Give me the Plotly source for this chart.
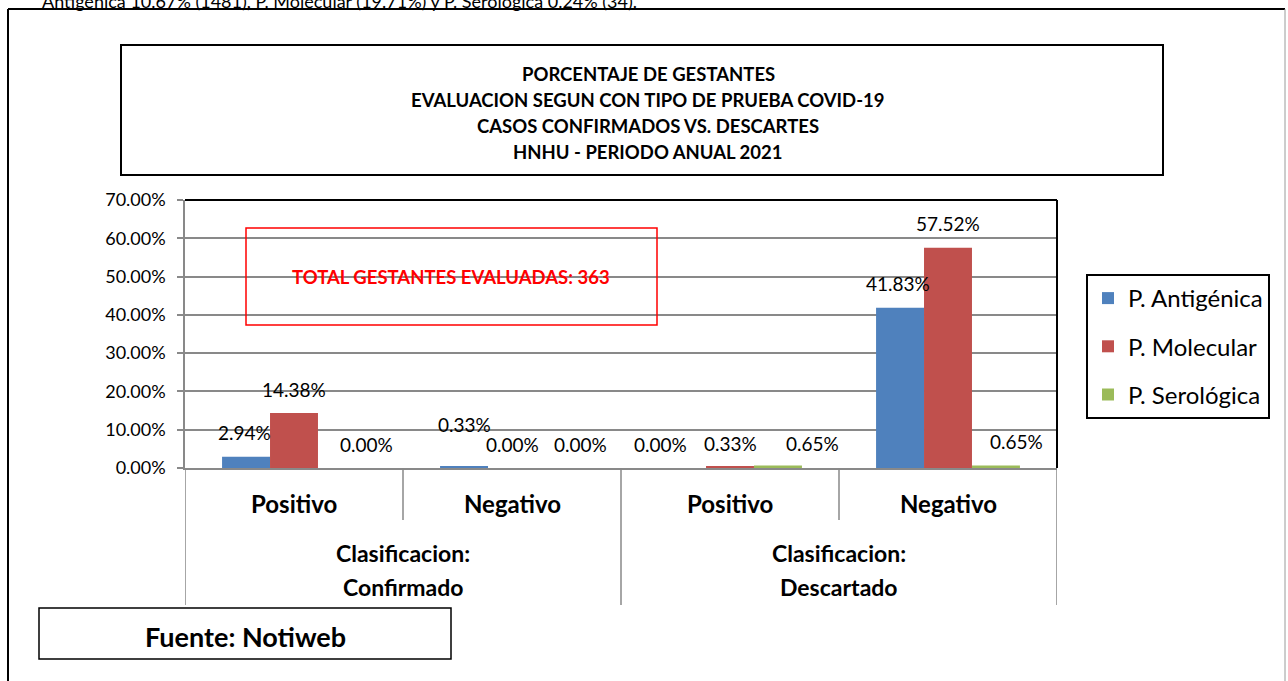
import plotly.graph_objects as go

# ---------------- data ----------------
groups = ["Clasificacion:<br>Confirmado", "Clasificacion:<br>Descartado"]
subcats = ["Positivo", "Negativo", "Positivo", "Negativo"]
series_names = ["P. Antigénica", "P. Molecular", "P. Serológica"]
antigenica = [2.94, 0.33, 0.00, 41.83]
molecular = [14.38, 0.00, 0.33, 57.52]
serologica = [0.00, 0.00, 0.65, 0.65]
y_ticks = [0, 10, 20, 30, 40, 50, 60, 70]

title_lines = [
    "PORCENTAJE DE GESTANTES",
    "EVALUACION SEGUN CON TIPO DE PRUEBA COVID-19",
    "CASOS CONFIRMADOS VS. DESCARTES",
    "HNHU - PERIODO ANUAL 2021",
]
total_text = "TOTAL GESTANTES EVALUADAS: 363"
source_text = "Fuente: Notiweb"
caption_text = "Antigénica 10.67% (1481), P. Molecular (19.71%) y P. Serológica 0.24% (34)."

# label offsets (pixels) to mimic the manually-placed data labels
label_dx = [[-2, 0, -22, -2], [0, 0, 0, 0], [25, 21, 35, 21]]
label_dy = [[24, 42, 24, 24], [23, 24, 23, 24], [24, 24, 22, 24]]

colors = ["#4F81BD", "#C0504D", "#9BBB59"]
FONT = "Lato, 'Open Sans', sans-serif"

W, H = 1288, 681
L, R, T, B = 185, 231, 200, 213
PW, PH = W - L - R, H - T - B


def px(x):
    return (x - L) / PW


def py(y):
    return (H - B - y) / PH


values = [antigenica, molecular, serologica]

fig = go.Figure()
for name, vals, col in zip(series_names, values, colors):
    fig.add_trace(go.Bar(
        x=list(range(len(subcats))), y=vals, name=name,
        marker=dict(color=col, line=dict(width=0)),
        legendgroup=name,
    ))

bargap = 0.34
bw = (1 - bargap) / 3

annotations = []
# data labels
for k, vals in enumerate(values):
    for i, v in enumerate(vals):
        annotations.append(dict(
            x=i + (k - 1) * bw, y=v, xref="x", yref="y",
            text=f"{v:.2f}%", showarrow=False,
            xshift=label_dx[k][i], yshift=label_dy[k][i],
            yanchor="middle", xanchor="center",
            font=dict(family=FONT, size=19, color="#000000"),
        ))

# category labels
for i, s in enumerate(subcats):
    annotations.append(dict(
        x=i, y=py(503), xref="x", yref="paper", text=f"<b>{s}</b>",
        showarrow=False, yanchor="middle", xanchor="center",
        font=dict(family=FONT, size=24, color="#000000"),
    ))
for g, name in enumerate(groups):
    l1, l2 = name.split("<br>")
    for txt, yy in ((l1, 553), (l2, 587)):
        annotations.append(dict(
            x=2 * g + 0.5, y=py(yy), xref="x", yref="paper", text=f"<b>{txt}</b>",
            showarrow=False, yanchor="middle", xanchor="center",
            font=dict(family=FONT, size=23, color="#000000"),
        ))

# title lines
for line, yy in zip(title_lines, [74, 100, 126, 152]):
    annotations.append(dict(
        x=px(648), y=py(yy), xref="paper", yref="paper", text=f"<b>{line}</b>",
        showarrow=False, yanchor="middle", xanchor="center",
        font=dict(family=FONT, size=18.5, color="#000000"),
    ))

annotations.append(dict(
    x=px(451), y=py(277), xref="paper", yref="paper", text=f"<b>{total_text}</b>",
    showarrow=False, yanchor="middle", xanchor="center",
    font=dict(family=FONT, size=18.5, color="#FF0000"),
))
annotations.append(dict(
    x=px(245), y=py(636), xref="paper", yref="paper", text=f"<b>{source_text}</b>",
    showarrow=False, yanchor="middle", xanchor="center",
    font=dict(family=FONT, size=27, color="#000000"),
))
annotations.append(dict(
    x=px(40), y=py(1), xref="paper", yref="paper", text=caption_text,
    showarrow=False, yanchor="middle", xanchor="left",
    font=dict(family=FONT, size=18, color="#000000"),
))

shapes = []
# outer border
shapes.append(dict(type="line", xref="paper", yref="paper", x0=px(8), x1=px(8), y0=py(9), y1=py(700),
                   line=dict(color="#000000", width=2)))
shapes.append(dict(type="line", xref="paper", yref="paper", x0=px(8), x1=px(1285), y0=py(9), y1=py(9),
                   line=dict(color="#000000", width=2)))
shapes.append(dict(type="line", xref="paper", yref="paper", x0=px(1285), x1=px(1285), y0=py(9), y1=py(700),
                   line=dict(color="#9a9a9a", width=1)))
# title box
shapes.append(dict(type="rect", xref="paper", yref="paper", x0=px(121), x1=px(1163), y0=py(175), y1=py(45),
                   line=dict(color="#000000", width=2)))
# red box
shapes.append(dict(type="rect", xref="paper", yref="paper", x0=px(246), x1=px(657), y0=py(325), y1=py(228),
                   line=dict(color="#FF0000", width=1.5)))
# source box
shapes.append(dict(type="rect", xref="paper", yref="paper", x0=px(39), x1=px(451), y0=py(659), y1=py(608),
                   line=dict(color="#000000", width=1.5)))
# plot area top & right borders
shapes.append(dict(type="line", xref="paper", yref="paper", x0=0, x1=1, y0=1, y1=1,
                   line=dict(color="#000000", width=2)))
shapes.append(dict(type="line", xref="paper", yref="paper", x0=1, x1=1, y0=0, y1=1,
                   line=dict(color="#000000", width=2)))
# category separators
for j in range(len(subcats) + 1):
    bottom = 605 if j % 2 == 0 else 520
    shapes.append(dict(type="line", xref="x", yref="paper", x0=j - 0.5, x1=j - 0.5, y0=0, y1=py(bottom),
                       line=dict(color="#898989", width=1.5)))

fig.update_layout(
    width=W, height=H,
    margin=dict(l=L, r=R, t=T, b=B, autoexpand=False),
    paper_bgcolor="white", plot_bgcolor="white",
    barmode="group", bargap=bargap, bargroupgap=0,
    font=dict(family=FONT, color="#000000"),
    showlegend=True,
    legend=dict(
        x=px(1086), y=py(274), xanchor="left", yanchor="top",
        bordercolor="#000000", borderwidth=2, bgcolor="white",
        font=dict(family=FONT, size=24, color="#000000"),
        traceorder="grouped", tracegroupgap=14,
    ),
    xaxis=dict(range=[-0.5, len(subcats) - 0.5], showticklabels=False, showgrid=False,
               zeroline=False, showline=True, linecolor="#898989", linewidth=1.5, ticks=""),
    yaxis=dict(range=[0, 70], tickvals=y_ticks, ticktext=[f"{v:.2f}%" for v in y_ticks],
               showgrid=True, gridcolor="#898989", gridwidth=1.5, zeroline=False,
               showline=True, linecolor="#898989", linewidth=1.5,
               ticks="outside", ticklen=6, tickcolor="#898989", tickwidth=1.5,
               ticklabelstandoff=8,
               tickfont=dict(family=FONT, size=18, color="#000000")),
    annotations=annotations, shapes=shapes,
)

fig.write_html("out.html", config={"displayModeBar": False},
               post_script="document.body.style.margin='0';document.body.style.overflow='hidden';")
